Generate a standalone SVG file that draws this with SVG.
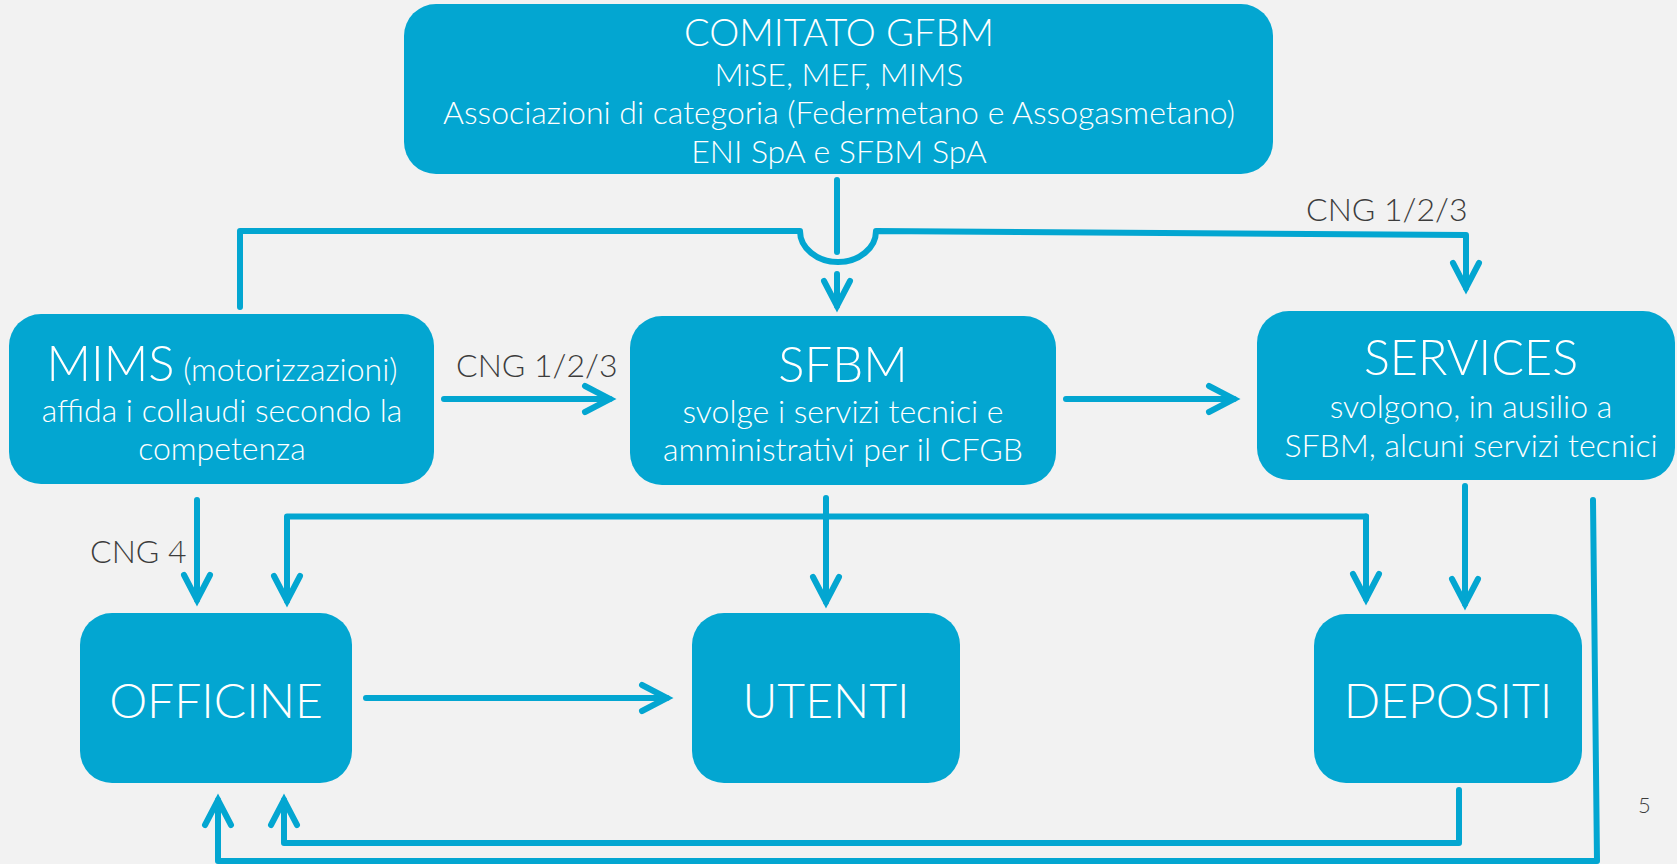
<svg xmlns="http://www.w3.org/2000/svg" width="1677" height="864" viewBox="0 0 1677 864">
<style>
.box{fill:#03A6D1}
.t{font-family:Lato,"Liberation Sans",sans-serif;font-weight:300;fill:#FFFFFF;text-anchor:middle}
.s{font-size:32px}
.lbl{font-family:Lato,"Liberation Sans",sans-serif;font-weight:300;fill:#3C3C3C;font-size:32px}
.c{fill:none;stroke:#03A6D1;stroke-width:6;stroke-linecap:round;stroke-linejoin:round}
.a{marker-end:url(#ah)}
</style>
<defs>
<marker id="ah" markerUnits="userSpaceOnUse" viewBox="-30 -20 40 40" markerWidth="40" markerHeight="40" refX="0" refY="0" orient="auto" overflow="visible">
<path d="M-25,-13 L0,0 L-25,13" fill="none" stroke="#03A6D1" stroke-width="6" stroke-linecap="round" stroke-linejoin="miter"/>
</marker>
</defs>
<rect width="1677" height="864" fill="#F2F2F2"/>

<g id="comitato">
<rect class="box" x="404" y="4" width="869" height="170" rx="32"/>
<text class="t" x="839" y="46" font-size="38">COMITATO GFBM</text>
<text class="t s" x="839" y="85.5">MiSE, MEF, MIMS</text>
<text class="t s" x="839" y="123.5">Associazioni di categoria (Federmetano e Assogasmetano)</text>
<text class="t s" x="839" y="162.5">ENI SpA e SFBM SpA</text>
</g>

<g id="mims">
<rect class="box" x="9" y="314" width="425" height="170" rx="32"/>
<text class="t" x="222" y="381"><tspan font-size="49">MIMS</tspan><tspan font-size="32"> (motorizzazioni)</tspan></text>
<text class="t s" x="222" y="421.5">affida i collaudi secondo la</text>
<text class="t s" x="222" y="459.5">competenza</text>
</g>

<g id="sfbm">
<rect class="box" x="630" y="316" width="426" height="169" rx="32"/>
<text class="t" x="843" y="381.5" font-size="49">SFBM</text>
<text class="t s" x="843" y="423">svolge i servizi tecnici e</text>
<text class="t s" x="843" y="460.5">amministrativi per il CFGB</text>
</g>

<g id="services">
<rect class="box" x="1257" y="311" width="418" height="169" rx="32"/>
<text class="t" x="1471" y="375" font-size="48.5">SERVICES</text>
<text class="t s" x="1471" y="417.5">svolgono, in ausilio a</text>
<text class="t s" x="1471" y="456.5">SFBM, alcuni servizi tecnici</text>
</g>

<g id="officine">
<rect class="box" x="80" y="613" width="272" height="170" rx="32"/>
<text class="t" x="216" y="717.5" font-size="48">OFFICINE</text>
</g>

<g id="utenti">
<rect class="box" x="692" y="613" width="268" height="170" rx="32"/>
<text class="t" x="826" y="717.5" font-size="48">UTENTI</text>
</g>

<g id="depositi">
<rect class="box" x="1314" y="614" width="268" height="169" rx="32"/>
<text class="t" x="1448" y="717.5" font-size="48">DEPOSITI</text>
</g>

<g id="connectors">
<path class="c" d="M837,180 V252"/>
<path class="c a" d="M837,274 V306"/>
<path class="c a" d="M240,307 V231 H800 A38,31 0 0 0 876,231 L1466,235 V288"/>
<path class="c a" d="M444,399 H610"/>
<path class="c a" d="M1066,399 H1234"/>
<path class="c a" d="M197,500 V600"/>
<path class="c a" d="M826,498 V602"/>
<path class="c a" d="M1366,516.5 V599"/>
<path class="c a" d="M826,516.5 H287 V601"/>
<path class="c" d="M826,516.5 H1366"/>
<path class="c a" d="M1465,486 V604"/>
<path class="c a" d="M366,698 H667"/>
<path class="c a" d="M1459,790 V843 H284 V800"/>
<path class="c a" d="M1593,500 L1597,861 H218 V800"/>
</g>

<g id="labels">
<text class="lbl" x="456" y="377">CNG 1/2/3</text>
<text class="lbl" x="1306" y="220.5">CNG 1/2/3</text>
<text class="lbl" x="90" y="563">CNG 4</text>
<text class="lbl" x="1638" y="813" style="font-size:22px">5</text>
</g>
</svg>
